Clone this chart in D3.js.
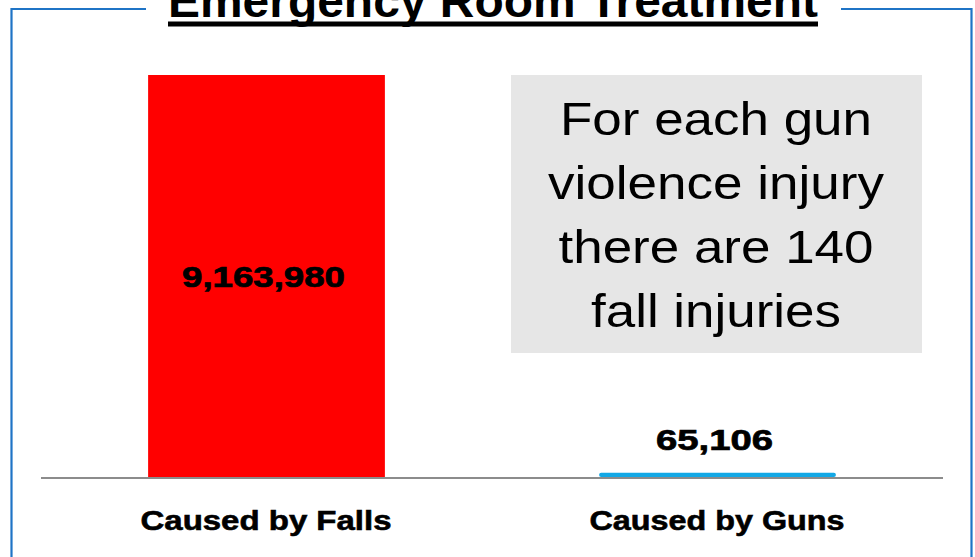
<!DOCTYPE html>
<html>
<head>
<meta charset="utf-8">
<script src="https://cdn.jsdelivr.net/npm/d3@7"></script>
<style>
  html, body { margin: 0; padding: 0; background: #ffffff; }
  svg { display: block; }
  text { font-family: "Liberation Sans", Arial, sans-serif; }
</style>
</head>
<body>
<svg id="chart" width="975" height="557"></svg>
<script>
const title = "Emergency Room Treatment";
const categories = ["Caused by Falls", "Caused by Guns"];
const values = [9163980, 65106];
const colors = ["#ff0000", "#12a8e6"];
const noteLines = ["For each gun", "violence injury", "there are 140", "fall injuries"];

const W = 975, H = 557;
const svg = d3.select("#chart");

// frame
const frameColor = "#1f74c6";
const frame = svg.append("g").attr("stroke", frameColor).attr("stroke-width", 2.2).attr("fill", "none");
frame.append("line").attr("x1", 11).attr("x2", 146).attr("y1", 9).attr("y2", 9);
frame.append("line").attr("x1", 841).attr("x2", 972).attr("y1", 9).attr("y2", 9);
frame.append("line").attr("x1", 11.5).attr("x2", 11.5).attr("y1", 8).attr("y2", H + 5);
frame.append("line").attr("x1", 971.5).attr("x2", 971.5).attr("y1", 8).attr("y2", H + 5);

// title (partly above the top edge, as in the reference)
svg.append("text")
  .attr("x", 168).attr("y", 17)
  .attr("font-size", 47).attr("font-weight", "bold").attr("fill", "#000")
  .attr("textLength", 650).attr("lengthAdjust", "spacingAndGlyphs")
  .text(title);
svg.append("rect").attr("x", 168).attr("y", 21.5).attr("width", 650).attr("height", 5).attr("fill", "#000");

// scales
const x = d3.scaleBand().domain(categories).range([41, 943]).paddingInner(0.475).paddingOuter(0.2375);
const y = d3.scaleLinear().domain([0, values[0]]).range([477, 75]);

// annotation box
const noteWidths = [312, 336, 315, 250];
svg.append("rect").attr("x", 511).attr("y", 75).attr("width", 411).attr("height", 278).attr("fill", "#e6e6e6");
svg.append("g").selectAll("text").data(noteLines).join("text")
  .attr("x", 716).attr("y", (d, i) => 135 + i * 64)
  .attr("text-anchor", "middle").attr("font-size", 47).attr("fill", "#000")
  .attr("textLength", (d, i) => noteWidths[i]).attr("lengthAdjust", "spacingAndGlyphs")
  .text(d => d);

// bars
const data = categories.map((c, i) => ({ c, v: values[i], color: colors[i] }));
svg.append("g").selectAll("rect").data(data).join("rect")
  .attr("x", d => x(d.c)).attr("width", x.bandwidth())
  .attr("y", d => y(d.v) - (d.v < values[0] * 0.05 ? 1.5 : 0))
  .attr("height", d => y(0) - y(d.v) + (d.v < values[0] * 0.05 ? 1.5 : 0))
  .attr("rx", d => d.v < values[0] * 0.05 ? 2 : 0)
  .attr("fill", d => d.color);

// axis line
const axis = svg.append("g").attr("transform", `translate(0,${y(0) + 1})`)
  .call(d3.axisBottom(x).tickSize(0).tickPadding(30).tickFormat(() => ""));
axis.select(".domain").attr("stroke", "#8c8c8c").attr("stroke-width", 2.2).attr("d", "M41,0H943");

// category labels
const catWidths = [251, 255];
svg.append("g").selectAll("text").data(data).join("text")
  .attr("x", d => x(d.c) + x.bandwidth() / 2 - 0.5)
  .attr("y", 530)
  .attr("text-anchor", "middle").attr("font-size", 28).attr("font-weight", "bold").attr("fill", "#000")
  .attr("textLength", (d, i) => catWidths[i]).attr("lengthAdjust", "spacingAndGlyphs")
  .attr("stroke", "#000").attr("stroke-width", 0.6)
  .text(d => d.c);

// value labels
const fmt = d3.format(",");
const valWidths = [163, 117];
svg.append("g").selectAll("text").data(data).join("text")
  .attr("x", d => x(d.c) + x.bandwidth() / 2 - 3)
  .attr("y", (d, i) => i === 0 ? (y(d.v) + y(0)) / 2 + 11 : y(d.v) - 24)
  .attr("text-anchor", "middle").attr("font-size", 29).attr("font-weight", "bold").attr("fill", "#000")
  .attr("textLength", (d, i) => valWidths[i]).attr("lengthAdjust", "spacingAndGlyphs")
  .attr("stroke", "#000").attr("stroke-width", 0.7)
  .text(d => fmt(d.v));
</script>
</body>
</html>
